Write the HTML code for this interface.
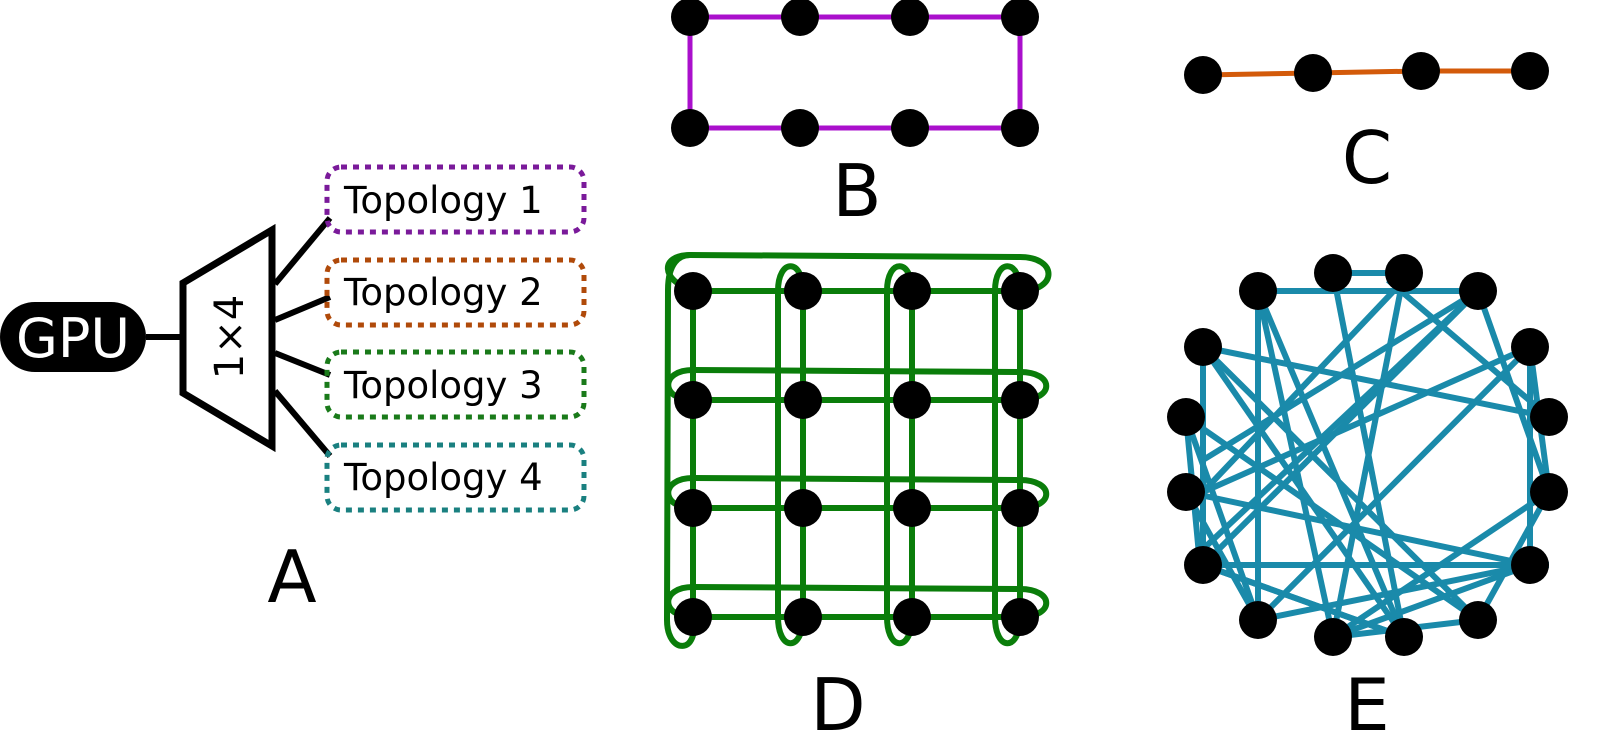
<!DOCTYPE html>
<html><head><meta charset="utf-8"><style>
html,body{margin:0;padding:0;background:#fff;}
svg{display:block}
text{font-family:"DejaVu Sans","Liberation Sans",sans-serif;}
</style></head><body>
<svg width="1600" height="744" viewBox="0 0 1600 744" xmlns="http://www.w3.org/2000/svg">
<!-- A -->
<rect x="0" y="302" width="146" height="70" rx="35" fill="#000"/>
<text x="73" y="357" font-size="54" fill="#fff" text-anchor="middle">GPU</text>
<line x1="146" y1="337" x2="183" y2="337" stroke="#000" stroke-width="6"/>
<polygon points="183,283 272,230 272,446 183,393" fill="#fff" stroke="#000" stroke-width="7"/>
<text x="0" y="0" font-size="40" fill="#000" text-anchor="middle" transform="translate(243,337) rotate(-90)">1×4</text>
<g stroke="#000" stroke-width="6">
<line x1="275" y1="284" x2="330" y2="218"/>
<line x1="275" y1="320" x2="330" y2="297"/>
<line x1="275" y1="353" x2="330" y2="375"/>
<line x1="275" y1="391" x2="330" y2="456"/>
</g>
<g fill="none" stroke-width="5" stroke-dasharray="6,6">
<rect x="327" y="167" width="257" height="65" rx="14" stroke="#7a1a9a"/>
<rect x="327" y="260" width="257" height="65" rx="14" stroke="#b04a0a"/>
<rect x="327" y="352" width="257" height="65" rx="14" stroke="#1a7a1a"/>
<rect x="327" y="445" width="257" height="65" rx="14" stroke="#1a8080"/>
</g>
<g font-size="37" fill="#000">
<text x="344" y="213">Topology 1</text>
<text x="344" y="305">Topology 2</text>
<text x="344" y="398">Topology 3</text>
<text x="344" y="490">Topology 4</text>
</g>
<text x="292" y="602" font-size="72" text-anchor="middle">A</text>
<!-- B -->
<rect x="690" y="17" width="330" height="111" fill="none" stroke="#aa10cc" stroke-width="5"/>
<g fill="#000">
<circle cx="690" cy="17" r="19"/><circle cx="800" cy="17" r="19"/><circle cx="910" cy="17" r="19"/><circle cx="1020" cy="17" r="19"/>
<circle cx="690" cy="128" r="19"/><circle cx="800" cy="128" r="19"/><circle cx="910" cy="128" r="19"/><circle cx="1020" cy="128" r="19"/>
</g>
<text x="857" y="216" font-size="72" text-anchor="middle">B</text>
<!-- C -->
<polyline points="1203,75 1313,73 1421,71 1530,71" fill="none" stroke="#d35a0a" stroke-width="5"/>
<g fill="#000"><circle cx="1203" cy="75" r="19"/><circle cx="1313" cy="73" r="19"/><circle cx="1421" cy="71" r="19"/><circle cx="1530" cy="71" r="19"/></g>
<text x="1367" y="183" font-size="72" text-anchor="middle">C</text>
<!-- D -->
<g fill="none" stroke="#0a7d0a" stroke-width="6">
<path d="M693,291 L1020,291 M693,400 L1020,400 M693,508 L1020,508 M693,617 L1020,617"/>
<path d="M693,291 L693,617 M803,291 L803,617 M912,291 L912,617 M1020,291 L1020,617"/>
<path d="M693,291 C660,280 660,255 690,255 L1020,257 C1058,257 1058,291 1020,291"/>
<path d="M693,400 C660,400 660,370 693,370 L1020,372 C1055,372 1055,400 1020,400"/>
<path d="M693,508 C660,508 660,478 693,478 L1020,480 C1055,480 1055,508 1020,508"/>
<path d="M693,617 C660,617 660,587 693,587 L1020,589 C1055,589 1055,617 1020,617"/>
<path d="M693,617 C700,655 667,655 667,620 L668,290 C668,262 680,255 690,255"/>
<path d="M803,291 C803,258 778,258 778,291 L778,617 C778,652 803,652 803,617"/>
<path d="M912,291 C912,258 887,258 887,291 L887,617 C887,652 912,652 912,617"/>
<path d="M1020,291 C1020,258 995,258 995,291 L995,617 C995,652 1020,652 1020,617"/>
</g>
<g fill="#000">
<circle cx="693" cy="291" r="19"/><circle cx="803" cy="291" r="19"/><circle cx="912" cy="291" r="19"/><circle cx="1020" cy="291" r="19"/>
<circle cx="693" cy="400" r="19"/><circle cx="803" cy="400" r="19"/><circle cx="912" cy="400" r="19"/><circle cx="1020" cy="400" r="19"/>
<circle cx="693" cy="508" r="19"/><circle cx="803" cy="508" r="19"/><circle cx="912" cy="508" r="19"/><circle cx="1020" cy="508" r="19"/>
<circle cx="693" cy="617" r="19"/><circle cx="803" cy="617" r="19"/><circle cx="912" cy="617" r="19"/><circle cx="1020" cy="617" r="19"/>
</g>
<text x="838" y="730" font-size="72" text-anchor="middle">D</text>
<!-- E -->
<g stroke="#1a8aaa" stroke-width="6">
<line x1="1333" y1="273" x2="1404" y2="273"/>
<line x1="1258" y1="291" x2="1478" y2="291"/>
<line x1="1333" y1="273" x2="1404" y2="637"/>
<line x1="1404" y1="273" x2="1333" y2="637"/>
<line x1="1404" y1="280" x2="1203" y2="492"/>
<line x1="1258" y1="291" x2="1258" y2="620"/>
<line x1="1258" y1="291" x2="1333" y2="637"/>
<line x1="1478" y1="291" x2="1203" y2="460"/>
<line x1="1478" y1="291" x2="1549" y2="492"/>
<line x1="1388" y1="280" x2="1549" y2="417"/>
<line x1="1478" y1="291" x2="1186" y2="565"/>
<line x1="1203" y1="347" x2="1549" y2="417"/>
<line x1="1203" y1="347" x2="1478" y2="620"/>
<line x1="1203" y1="347" x2="1404" y2="637"/>
<line x1="1203" y1="347" x2="1203" y2="565"/>
<line x1="1530" y1="347" x2="1203" y2="492"/>
<line x1="1530" y1="347" x2="1549" y2="492"/>
<line x1="1530" y1="347" x2="1530" y2="565"/>
<line x1="1530" y1="347" x2="1258" y2="620"/>
<line x1="1186" y1="417" x2="1478" y2="620"/>
<line x1="1186" y1="417" x2="1258" y2="620"/>
<line x1="1186" y1="417" x2="1200" y2="565"/>
<line x1="1186" y1="492" x2="1530" y2="565"/>
<line x1="1186" y1="492" x2="1258" y2="620"/>
<line x1="1203" y1="565" x2="1478" y2="291"/>
<line x1="1203" y1="565" x2="1404" y2="637"/>
<line x1="1203" y1="565" x2="1549" y2="565"/>
<line x1="1549" y1="492" x2="1333" y2="637"/>
<line x1="1549" y1="492" x2="1478" y2="620"/>
<line x1="1530" y1="565" x2="1258" y2="620"/>
<line x1="1530" y1="565" x2="1333" y2="637"/>
<line x1="1333" y1="637" x2="1478" y2="620"/>
<line x1="1404" y1="637" x2="1203" y2="565"/>
<line x1="1258" y1="291" x2="1404" y2="637"/>
</g>
<g fill="#000">
<circle cx="1333" cy="273" r="19"/><circle cx="1404" cy="273" r="19"/><circle cx="1478" cy="291" r="19"/><circle cx="1530" cy="347" r="19"/>
<circle cx="1549" cy="417" r="19"/><circle cx="1549" cy="492" r="19"/><circle cx="1530" cy="565" r="19"/><circle cx="1478" cy="620" r="19"/>
<circle cx="1404" cy="637" r="19"/><circle cx="1333" cy="637" r="19"/><circle cx="1258" cy="620" r="19"/><circle cx="1203" cy="565" r="19"/>
<circle cx="1186" cy="492" r="19"/><circle cx="1186" cy="417" r="19"/><circle cx="1203" cy="347" r="19"/><circle cx="1258" cy="291" r="19"/>
</g>
<text x="1367" y="730" font-size="72" text-anchor="middle">E</text>
</svg>
</body></html>
